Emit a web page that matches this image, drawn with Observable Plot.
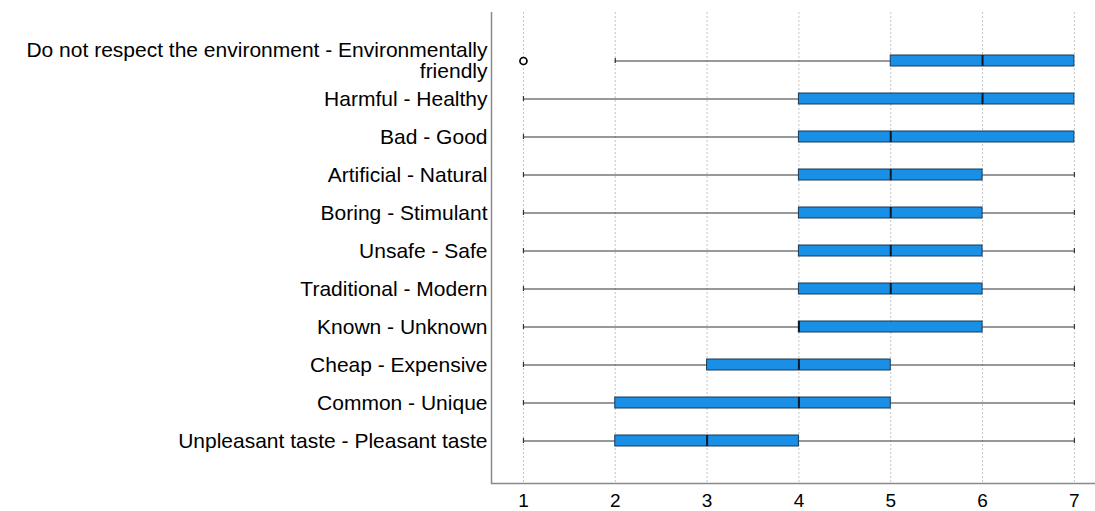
<!DOCTYPE html>
<html>
<head>
<meta charset="utf-8">
<script src="https://cdn.jsdelivr.net/npm/d3@7"></script>
<script src="https://cdn.jsdelivr.net/npm/@observablehq/plot@0.6"></script>
<style>
  html, body { margin: 0; padding: 0; background: #fff; }
  #chart svg { display: block; }
</style>
</head>
<body>
<div id="chart"></div>
<script>
const labels = [
  "Do not respect the environment - Environmentally\nfriendly",
  "Harmful - Healthy",
  "Bad - Good",
  "Artificial - Natural",
  "Boring - Stimulant",
  "Unsafe - Safe",
  "Traditional - Modern",
  "Known - Unknown",
  "Cheap - Expensive",
  "Common - Unique",
  "Unpleasant taste - Pleasant taste"
];
const mins    = [2, 1, 1, 1, 1, 1, 1, 1, 1, 1, 1];
const q1s     = [5, 4, 4, 4, 4, 4, 4, 4, 3, 2, 2];
const medians = [6, 6, 5, 5, 5, 5, 5, 4, 4, 4, 3];
const q3s     = [7, 7, 7, 6, 6, 6, 6, 6, 5, 5, 4];
const maxs    = [7, 7, 7, 7, 7, 7, 7, 7, 7, 7, 7];
const outliers = [[1], [], [], [], [], [], [], [], [], [], []];
const xTicks = [1, 2, 3, 4, 5, 6, 7];

const rows = labels.map((label, i) => ({
  label, min: mins[i], q1: q1s[i], median: medians[i], q3: q3s[i], max: maxs[i]
}));
const lowWhisk = rows.filter(d => d.min < d.q1).map(d => ({label: d.label, a: d.min, b: d.q1}));
const highWhisk = rows.filter(d => d.max > d.q3).map(d => ({label: d.label, a: d.q3, b: d.max}));
const capsLow = lowWhisk.map(d => ({label: d.label, x: d.a}));
const capsHigh = highWhisk.map(d => ({label: d.label, x: d.b}));
const outlierPts = labels.flatMap((label, i) => outliers[i].map(v => ({label, x: v})));

const font = "'Liberation Sans', Arial, sans-serif";
const plot = Plot.plot({
  width: 1095,
  height: 511,
  marginLeft: 491,
  marginRight: 0,
  marginTop: 12,
  marginBottom: 28,
  style: {fontFamily: font, fontSize: "20px", color: "#000", background: "#fff"},
  x: {domain: [0.652, 7.23]},
  y: {domain: labels, paddingInner: 0.72, paddingOuter: 1.0, align: 0.53},
  marks: [
    Plot.ruleX(xTicks, {stroke: "#c4c4c4", strokeDasharray: "2,2", strokeWidth: 1}),
    Plot.ruleY(lowWhisk, {y: "label", x1: "a", x2: "b", stroke: "#333", strokeWidth: 1.1}),
    Plot.ruleY(highWhisk, {y: "label", x1: "a", x2: "b", stroke: "#333", strokeWidth: 1.1}),
    Plot.tickX(capsLow, {x: "x", y: "label", stroke: "#333", strokeWidth: 1.2, insetTop: 3, insetBottom: 3}),
    Plot.tickX(capsHigh, {x: "x", y: "label", stroke: "#333", strokeWidth: 1.2, insetTop: 3, insetBottom: 3}),
    Plot.barX(rows, {y: "label", x1: "q1", x2: "q3", fill: "#1a8fe6", stroke: "#173a5a", strokeWidth: 1}),
    Plot.tickX(rows, {x: "median", y: "label", stroke: "#0b1a2a", strokeWidth: 2}),
    Plot.dot(outlierPts, {x: "x", y: "label", r: 3.5, stroke: "#000", fill: "#fff", strokeWidth: 1.7}),
    Plot.ruleX([0.652], {stroke: "#8a8a8a", strokeWidth: 1.5}),
    Plot.frame({anchor: "bottom", stroke: "#8a8a8a", strokeWidth: 1.5}),
    Plot.axisY({tickSize: 0, tickPadding: 4, fontSize: 21, lineHeight: 1.0, label: null, fill: "#000"}),
    Plot.axisX(xTicks, {tickSize: 0, tickPadding: 10, fontSize: 19, label: null, fill: "#000"})
  ]
});
document.getElementById("chart").appendChild(plot);
</script>
</body>
</html>
